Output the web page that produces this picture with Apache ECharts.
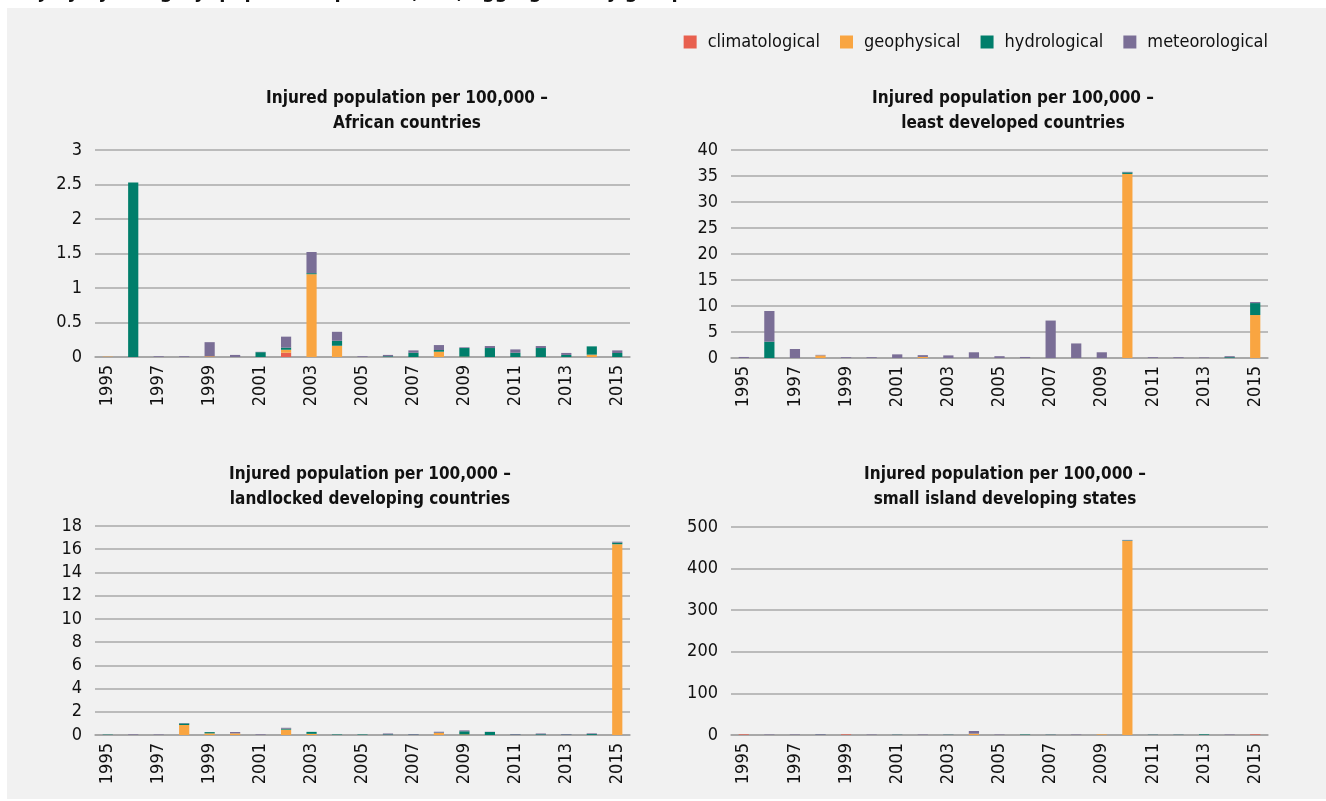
<!DOCTYPE html>
<html>
<head>
<meta charset="utf-8">
<script src="https://cdn.jsdelivr.net/npm/echarts@6/dist/echarts.min.js"></script>
<style>
  html, body { margin: 0; padding: 0; background: #ffffff; }
  #chart { width: 1326px; height: 801px; }
</style>
</head>
<body>
<div id="chart"></div>
<script>
// Years on the category axis
const years = ['1995','1996','1997','1998','1999','2000','2001','2002','2003','2004','2005',
               '2006','2007','2008','2009','2010','2011','2012','2013','2014','2015'];

// Disaster subgroups
const subgroups = ['climatological', 'geophysical', 'hydrological', 'meteorological'];
const subgroupColors = ['#e8604f', '#f9a541', '#007e6b', '#7a6e96'];

// Injured population per 100,000 – African countries
const afrClim  = [0,0,0,0,0,0,0,0.062,0,0,0,0,0,0,0,0,0,0,0,0,0];
const afrGeo   = [0.005,0,0,0,0.01,0,0,0.043,1.2,0.163,0,0,0,0.077,0.005,0,0,0,0,0.034,0];
const afrHydro = [0,2.53,0,0,0,0,0.07,0.03,0.015,0.072,0,0.01,0.062,0.024,0.125,0.13,0.062,0.13,0.03,0.12,0.058];
const afrMet   = [0,0,0.01,0.01,0.205,0.03,0.005,0.16,0.307,0.13,0.01,0.02,0.034,0.072,0.01,0.029,0.048,0.029,0.029,0,0.038];

// Injured population per 100,000 – least developed countries
const ldcClim  = [0,0,0,0,0,0,0,0,0,0,0,0,0,0,0,0,0,0,0,0,0];
const ldcGeo   = [0,0,0,0.5,0,0,0,0.2,0,0,0,0,0,0,0,35.4,0,0,0,0,8.26];
const ldcHydro = [0,3.14,0,0,0,0,0,0,0,0,0,0,0,0,0,0.3,0,0,0,0.15,2.3];
const ldcMet   = [0.2,5.9,1.73,0.1,0.15,0.15,0.7,0.35,0.5,1.1,0.35,0.2,7.2,2.8,1.1,0.1,0.15,0.15,0.1,0.2,0.2];

// Injured population per 100,000 – landlocked developing countries
const lldcClim  = [0,0,0,0,0,0,0,0,0,0,0,0,0,0,0,0,0,0,0,0,0];
const lldcGeo   = [0,0,0,0.86,0.14,0.14,0,0.46,0.1,0,0,0,0,0.17,0.05,0,0,0,0,0,16.43];
const lldcHydro = [0.03,0,0,0.14,0.11,0,0,0.08,0.17,0.04,0.04,0.05,0.03,0.03,0.27,0.26,0.03,0.06,0.03,0.08,0.14];
const lldcMet   = [0,0.05,0.04,0.03,0.01,0.12,0.05,0.08,0,0,0,0.08,0.05,0.08,0.08,0.02,0.05,0.07,0.05,0.06,0.08];

// Injured population per 100,000 – small island developing states
const sidsClim  = [1.5,0,0,0,1.5,0,0,0,0,0,0,0,0,0,0,0,0,0,0,0,1.5];
const sidsGeo   = [0,0,0,0,0,0,0,0,0,3.2,0,0,0,0,1.5,466.6,0,0,0,0,0];
const sidsHydro = [0,0,0,0.5,0,0,0.5,0,0.5,0,0,1,0.5,0,0,1.2,0.5,0.5,1.5,0,0];
const sidsMet   = [0,1,1,1.5,0,1,0.5,1,0.5,6.4,1,0,0.5,1,0,1.2,0.5,0.5,0,1,0];

// Axis ranges
const yMax      = [3, 40, 18, 500];
const yInterval = [0.5, 5, 2, 100];

const panelTitles = [
  'Injured population per 100,000 –\nAfrican countries',
  'Injured population per 100,000 –\nleast developed countries',
  'Injured population per 100,000 –\nlandlocked developing countries',
  'Injured population per 100,000 –\nsmall island developing states'
];
const panelData = [
  [afrClim, afrGeo, afrHydro, afrMet],
  [ldcClim, ldcGeo, ldcHydro, ldcMet],
  [lldcClim, lldcGeo, lldcHydro, lldcMet],
  [sidsClim, sidsGeo, sidsHydro, sidsMet]
];

const FONT = '"Liberation Sans Narrow", "DejaVu Sans Condensed", "Liberation Sans", sans-serif';

const grids = [
  { left: 95,  width: 535, top: 150, height: 207 },
  { left: 731, width: 537, top: 150, height: 208 },
  { left: 95,  width: 535, top: 526, height: 209 },
  { left: 731, width: 537, top: 527, height: 208 }
];
const titlePos = [ {x: 402, y: 81}, {x: 1008, y: 81}, {x: 365, y: 457}, {x: 1000, y: 457} ];

const xAxes = [], yAxes = [], series = [], titles = [];
grids.forEach((g, i) => {
  titles.push({
    text: panelTitles[i],
    left: titlePos[i].x, top: titlePos[i].y, textAlign: 'center',
    textStyle: { fontFamily: FONT, fontSize: 17, fontWeight: 'bold', color: '#111', lineHeight: 25 }
  });
  xAxes.push({
    type: 'category', gridIndex: i, data: years,
    axisLine: { lineStyle: { color: '#a3a3a3', width: 1.5 } },
    axisTick: { show: false },
    axisLabel: { interval: 1, rotate: 90, fontFamily: FONT, fontSize: 18, color: '#111', margin: 8 }
  });
  yAxes.push({
    type: 'value', gridIndex: i, min: 0, max: yMax[i], interval: yInterval[i],
    axisLine: { show: false }, axisTick: { show: false },
    splitLine: { lineStyle: { color: '#a8a8a8', width: 1.5 } },
    axisLabel: { fontFamily: FONT, fontSize: 18, color: '#111', margin: 13 }
  });
  subgroups.forEach((name, k) => {
    series.push({
      name: name, type: 'bar', stack: 'panel' + i,
      xAxisIndex: i, yAxisIndex: i,
      data: panelData[i][k],
      barWidth: '40%',
      itemStyle: { color: subgroupColors[k] },
      emphasis: { disabled: true }
    });
  });
});

const chart = echarts.init(document.getElementById('chart'), null, { renderer: 'canvas' });
chart.setOption({
  animation: false,
  backgroundColor: '#ffffff',
  color: subgroupColors,
  graphic: [
    { type: 'rect', shape: { x: 7, y: 8, width: 1319, height: 791 }, style: { fill: '#f1f1f1' }, z: -10 },
    // Figure heading, sitting above the top edge of the panel
    { type: 'text', x: 20, y: -17,
      style: { text: 'Injury by category: population per 100,000, aggregated by group',
               font: 'bold 20px ' + FONT, fill: '#111', verticalAlign: 'top' } }
  ],
  title: titles,
  legend: {
    data: subgroups, right: 53, top: 28,
    icon: 'rect', itemWidth: 13, itemHeight: 13, itemGap: 20,
    textStyle: { fontFamily: FONT, fontSize: 18, color: '#111', padding: [0, 0, 0, 6] }
  },
  grid: grids,
  xAxis: xAxes,
  yAxis: yAxes,
  series: series
});
</script>
</body>
</html>
